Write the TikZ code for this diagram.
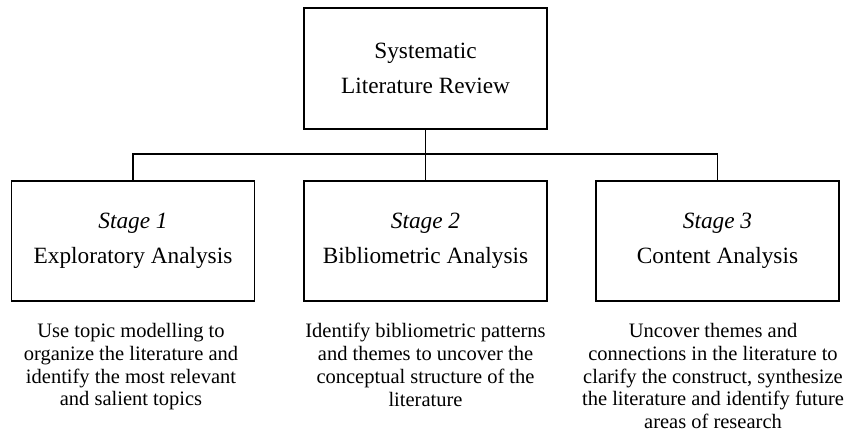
\documentclass[tikz,border=0pt]{standalone}
\usepackage{fontspec}
\setmainfont{Liberation Serif}
\begin{document}
\begin{tikzpicture}[x=1pt,y=-1pt,
  box/.style={draw, line width=1.6pt, minimum width=243pt, minimum height=120pt,
    inner sep=0pt, align=center, font=\fontsize{23.3}{34.5}\selectfont},
  desc/.style={align=center, font=\fontsize{20.5}{22.8}\selectfont, anchor=north, inner sep=0pt},
  conn/.style={line width=1.6pt}]
\useasboundingbox (0,0) rectangle (849,442);
\node[box, minimum height=121pt] (top) at (425.5,68.5) {Systematic\\Literature Review};
\node[box] (s1) at (133,241) {\textit{Stage 1}\\Exploratory Analysis};
\node[box] (s2) at (425.5,241) {\textit{Stage 2}\\Bibliometric Analysis};
\node[box] (s3) at (717.5,241) {\textit{Stage 3}\\Content Analysis};
\coordinate (j) at (425.5,154);
\draw[conn] (top.south) -- (s2.north);
\draw[conn] (s1.north) |- (j) -| (s3.north);
\node[desc] (d1) at (131,323) {Use topic modelling to\\organize the literature and\\identify the most relevant\\and salient topics};
\node[desc] (d2) at (425.5,323) {Identify bibliometric patterns\\and themes to uncover the\\conceptual structure of the\\literature};
\node[desc] (d3) at (713,323) {Uncover themes and\\connections in the literature to\\clarify the construct, synthesize\\the literature and identify future\\areas of research};
\end{tikzpicture}
\end{document}
